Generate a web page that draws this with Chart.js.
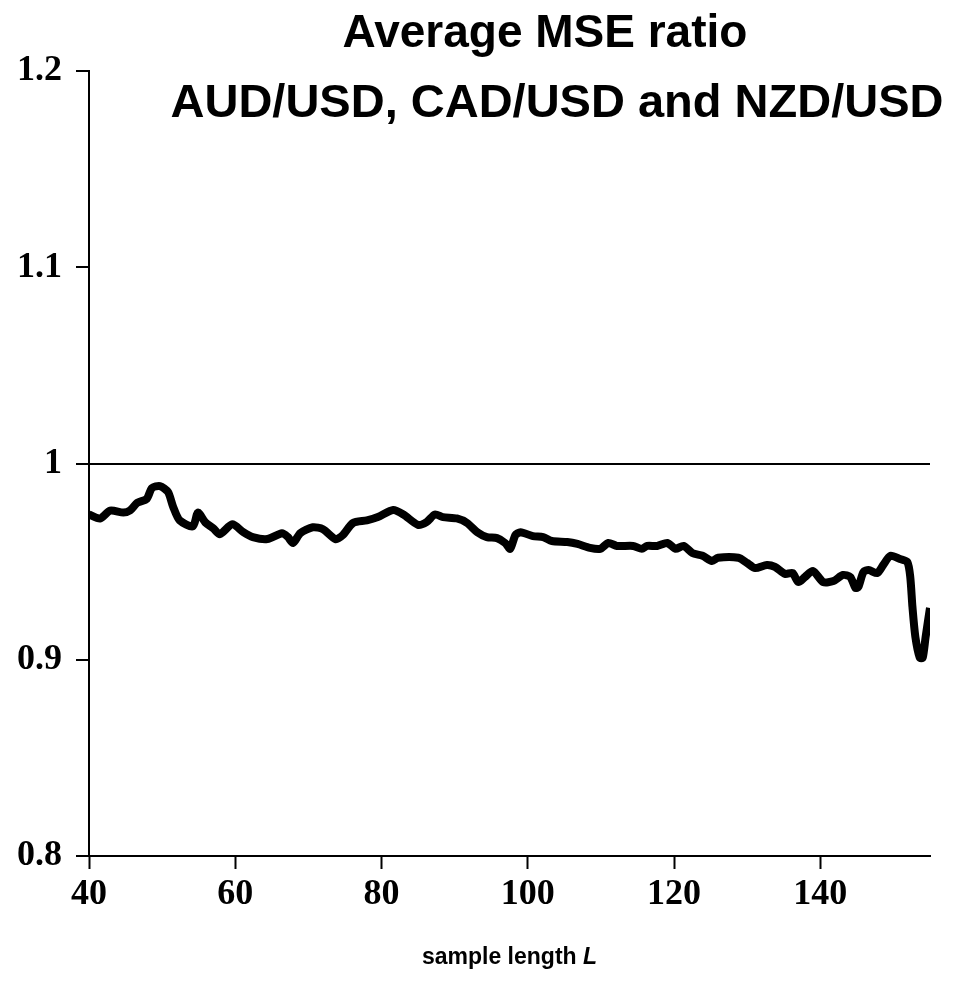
<!DOCTYPE html>
<html>
<head>
<meta charset="utf-8">
<script src="https://cdn.jsdelivr.net/npm/chart.js@4"></script>
<style>
  html, body { margin: 0; padding: 0; background: #fff; }
  #wrap { width: 955px; height: 982px; }
</style>
</head>
<body>
<div id="wrap"><canvas id="mseChart" width="955" height="982"></canvas></div>
<script>
// sample length L
var sampleLength = [40, 41.5, 42.9, 44.7, 45.6, 46.6, 47.9, 48.6, 49.7, 50.8, 51.5, 52.4, 54.2, 54.9, 55.9, 57.0, 57.9, 59.6, 61.1, 62.4, 64.4, 66.4, 67.2, 67.9, 68.9, 70.6, 72.0, 73.7, 74.7, 76.1, 78.0, 79.5, 81.6, 83.0, 85.0, 86.2, 87.3, 88.4, 90.3, 91.7, 93.1, 94.4, 95.8, 96.9, 97.6, 98.3, 99.0, 100.7, 102.1, 103.3, 105.4, 106.8, 108.5, 109.9, 111.0, 112.2, 114.4, 115.6, 116.3, 117.7, 119.1, 120.2, 121.3, 122.5, 123.9, 125.2, 126.0, 128.8, 130.0, 131.1, 132.7, 133.8, 135.2, 136.2, 137.0, 137.9, 139.0, 140.4, 141.8, 143.1, 144.1, 144.8, 145.2, 145.9, 146.6, 147.8, 148.6, 149.6, 150.9, 151.9, 152.3, 152.6, 153.0, 153.6, 154.0, 154.4, 155.0];
// average MSE ratio
var mseRatio = [0.974, 0.972, 0.976, 0.975, 0.976, 0.980, 0.982, 0.9875, 0.9885, 0.9855, 0.978, 0.971, 0.968, 0.975, 0.970, 0.967, 0.964, 0.969, 0.965, 0.9625, 0.9615, 0.9645, 0.9625, 0.9595, 0.9645, 0.9675, 0.9665, 0.9615, 0.9635, 0.9697, 0.971, 0.9727, 0.9763, 0.974, 0.9687, 0.9703, 0.974, 0.9727, 0.972, 0.9697, 0.965, 0.9625, 0.962, 0.9595, 0.9565, 0.9635, 0.965, 0.963, 0.9625, 0.9605, 0.960, 0.959, 0.957, 0.9565, 0.9595, 0.958, 0.958, 0.9565, 0.958, 0.958, 0.9595, 0.9565, 0.958, 0.9544, 0.953, 0.9503, 0.952, 0.952, 0.9493, 0.9467, 0.9483, 0.9473, 0.9437, 0.9442, 0.9396, 0.9422, 0.9452, 0.9396, 0.9401, 0.9432, 0.9422, 0.9366, 0.9371, 0.9447, 0.9457, 0.9442, 0.9483, 0.953, 0.9513, 0.9498, 0.9422, 0.9269, 0.9116, 0.9010, 0.9010, 0.9116, 0.9264];

var xTicks = [40, 60, 80, 100, 120, 140];
var yTicks = [0.8, 0.9, 1, 1.1, 1.2];
var yTickLabels = ["0.8", "0.9", "1", "1.1", "1.2"];
var titleLines = ["Average MSE ratio", "AUD/USD, CAD/USD and NZD/USD"];

var points = sampleLength.map(function (l, i) {
    return { x: l, y: mseRatio[i] };
});

// titres et titre de l'axe x (L en italique)
var textPlugin = {
    id: "texts",
    afterDraw: function (chart) {
        var c = chart.ctx;
        var area = chart.chartArea;
        c.save();
        c.fillStyle = "#000";
        c.textBaseline = "middle";
        c.textAlign = "center";
        c.font = "bold 46px 'Liberation Sans', Arial, sans-serif";
        c.fillText(titleLines[0], 545, 34);
        c.font = "bold 47px 'Liberation Sans', Arial, sans-serif";
        c.fillText(titleLines[1], 557, 104);

        var cx = (area.left + area.right) / 2;
        var part1 = "sample length ";
        var part2 = "L";
        c.font = "bold 23px 'Liberation Sans', Arial, sans-serif";
        var w1 = c.measureText(part1).width;
        c.font = "italic bold 23px 'Liberation Sans', Arial, sans-serif";
        var w2 = c.measureText(part2).width;
        var x0 = cx - (w1 + w2) / 2;
        c.textAlign = "left";
        c.font = "bold 23px 'Liberation Sans', Arial, sans-serif";
        c.fillText(part1, x0, 958);
        c.font = "italic bold 23px 'Liberation Sans', Arial, sans-serif";
        c.fillText(part2, x0 + w1, 958);
        c.restore();
    }
};

var ctx = document.getElementById("mseChart").getContext("2d");
var mseChart = new Chart(ctx, {
    type: "line",
    data: {
        datasets: [{
            data: points,
            borderColor: "#000",
            borderWidth: 8,
            pointRadius: 0,
            tension: 0.25,
            fill: false
        }]
    },
    options: {
        responsive: false,
        animation: false,
        layout: { padding: { top: 71, right: 25, bottom: 0, left: 0 } },
        plugins: {
            legend: { display: false },
            title: { display: false },
            tooltip: { enabled: false }
        },
        scales: {
            x: {
                type: "linear",
                min: 40,
                max: 155,
                afterBuildTicks: function (scale) {
                    scale.ticks = xTicks.map(function (v) { return { value: v }; });
                },
                afterFit: function (scale) { scale.height = 126; },
                border: { color: "#000", width: 2 },
                grid: {
                    color: "rgba(0,0,0,0)",
                    tickColor: "#000",
                    tickWidth: 2,
                    tickLength: 13,
                    drawTicks: true
                },
                ticks: {
                    color: "#000",
                    padding: 4,
                    maxRotation: 0,
                    autoSkip: false,
                    font: { family: "'Liberation Serif', 'Times New Roman', serif", size: 36, weight: "bold" }
                }
            },
            y: {
                min: 0.8,
                max: 1.2,
                afterBuildTicks: function (scale) {
                    scale.ticks = yTicks.map(function (v) { return { value: v }; });
                },
                afterFit: function (scale) { scale.width = 89; },
                border: { color: "#000", width: 2 },
                grid: {
                    color: function (c) {
                        return (c.tick && c.tick.value === 1) ? "#000" : "rgba(0,0,0,0)";
                    },
                    lineWidth: 2,
                    tickColor: "#000",
                    tickWidth: 2,
                    tickLength: 13
                },
                ticks: {
                    color: "#000",
                    padding: 14,
                    autoSkip: false,
                    callback: function (value, index) {
                        return yTickLabels[index];
                    },
                    font: { family: "'Liberation Serif', 'Times New Roman', serif", size: 36, weight: "bold" }
                }
            }
        }
    },
    plugins: [textPlugin]
});
</script>
</body>
</html>
